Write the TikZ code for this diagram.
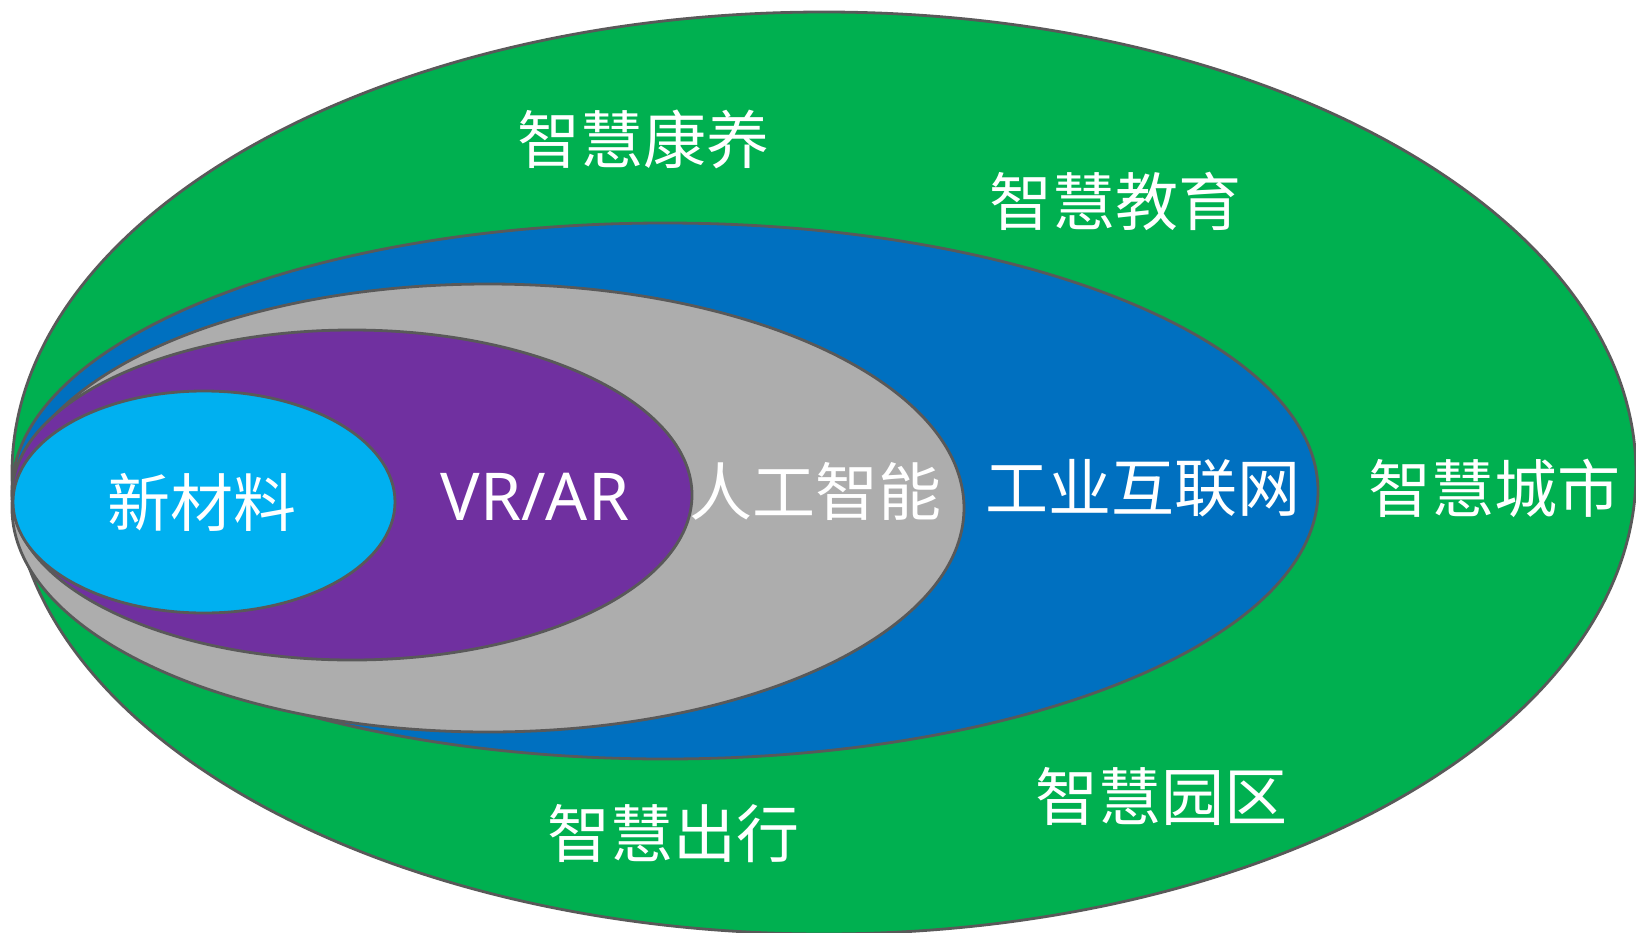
\documentclass[tikz,border=0pt]{standalone}
\usepackage{fontspec}
\newfontfamily\cjk{Noto Sans CJK SC}
\newfontfamily\latinsans{Noto Sans}
\definecolor{cgreen}{HTML}{00B050}
\definecolor{cblue}{HTML}{0070C0}
\definecolor{cgray}{HTML}{ADADAD}
\definecolor{cpurple}{HTML}{7030A0}
\definecolor{clight}{HTML}{00B0F0}
\definecolor{cedge}{HTML}{595959}
\tikzset{
  ring/.style={draw=cedge, line width=2.8pt},
  zh/.style={text=white, inner sep=0pt, font=\cjk\fontsize{63}{63}\selectfont},
  en/.style={text=white, inner sep=0pt, font=\latinsans\fontsize{66}{66}\selectfont}
}
\begin{document}
\begin{tikzpicture}[x=1pt,y=-1pt]
\useasboundingbox (0,0) rectangle (1636,932);
\begin{scope}
\clip (0,0) rectangle (1636,932);
\draw[ring, fill=cgreen] (824,473) ellipse [x radius=812pt, y radius=461pt];
\draw[ring, fill=cblue] (665,491) ellipse [x radius=653pt, y radius=268pt];
\draw[ring, fill=cgray] (488,508) ellipse [x radius=476pt, y radius=224pt];
\draw[ring, fill=cpurple] (352,495) ellipse [x radius=340pt, y radius=165pt];
\draw[ring, fill=clight] (204,502) ellipse [x radius=191pt, y radius=111pt];
\end{scope}
\node[zh] (kangyang) at (643,139) {智慧康养};
\node[zh] (jiaoyu) at (1115,201) {智慧教育};
\node[zh] (chengshi) at (1494,488) {智慧城市};
\node[zh] (yuanqu) at (1161,796) {智慧园区};
\node[zh] (chuxing) at (673,834) {智慧出行};
\node[zh] (gongye) at (1143,488) {工业互联网};
\node[zh] (rengong) at (815,491) {人工智能};
\node[en, anchor=base] (vrar) at (535,520) {VR/AR};
\node[zh] (xincailiao) at (202,502) {新材料};
\end{tikzpicture}
\end{document}
